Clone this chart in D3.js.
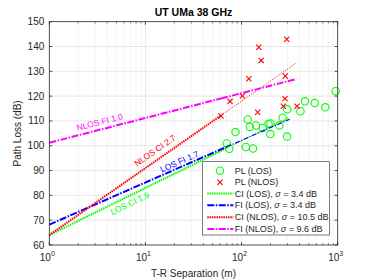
<!DOCTYPE html>
<html><head><meta charset="utf-8">
<script src="https://cdn.jsdelivr.net/npm/d3@7"></script>
<style>
html,body{margin:0;padding:0;background:#fff;}
svg{display:block;font-family:"Liberation Sans",Arial,Helvetica,sans-serif;}
</style></head>
<body>
<svg id="chart" width="374" height="280"></svg>
<script>
// ---- data ----
const chartTitle = "UT UMa 38 GHz";
const xLabel = "T-R Separation (m)";
const yLabel = "Path Loss (dB)";
const xDomain = [1, 1000];
const yDomain = [60, 150];
const yTicks = [60, 70, 80, 90, 100, 110, 120, 130, 140, 150];
const xTickExps = [0, 1, 2, 3];

const losDist = [70.0, 74.5, 86.5, 111, 116, 122, 131.5, 141, 166, 200, 190.5, 199, 247, 267, 297, 299, 410, 457, 577, 743, 953];
const losPL   = [100.9, 98.8, 105.5, 99.5, 110.6, 107.6, 98.9, 108.2, 107.2, 109.0, 108.8, 104.7, 108.2, 111.3, 103.7, 114.7, 113.9, 117.9, 117.2, 115.5, 122.0];

const nlosDist = [61, 75.9, 102, 119, 151, 160, 147, 295, 285, 283, 272, 377];
const nlosPL   = [112.0, 117.9, 120.1, 127.0, 139.7, 134.4, 113.5, 142.9, 128.1, 119.0, 115.9, 115.9];

// model lines: PL = alpha + 10*n*log10(d)
const modelNames  = ["CI (LOS)", "FI (LOS)", "CI (NLOS)", "FI (NLOS)"];
const modelSigma  = ["3.4", "3.4", "10.5", "9.6"];
const modelAlpha  = [64.0, 68.2, 64.0, 101.2];
const modelN      = [1.9, 1.7, 2.7, 1.0];
const modelDmin   = [70, 70, 61, 61];
const modelDmax   = [316, 316, 370, 370];
const modelLabels = ["LOS CI 1.9", "LOS FI 1.7", "NLOS CI 2.7", "NLOS FI 1.0"];
const labelDist   = [6.4, 23.8, 14.2, 3.5];

// ---- styles ----
const modelColors = ["#00ff00", "#0000ff", "#ff0000", "#ff00ff"];
const modelDash   = ["1.5,0.8", "7,1.5,1.5,1.5", "1.5,0.8", "7,1.5,1.5,1.5"];
const thinDash    = ["1.2,1.2", "5,1.5,1.2,1.5", "1.2,1.4", "7,1.5,1.5,1.5"];
const thinWidth   = [1.1, 1.1, 0.9, 2];
const labelOffset = [7, -5.5, -9, -7.5];
const axisColor = "#262626";

const svg = d3.select("#chart");
const m = {l: 49.3, r: 374 - 337.7, t: 21.7, b: 280 - 245};
const W = 374, H = 280;
const x = d3.scaleLog().domain(xDomain).range([m.l, W - m.r]);
const y = d3.scaleLinear().domain(yDomain).range([H - m.b, m.t]);

const g = svg.append("g");

// grid
const minorX = [];
for (let e = 0; e < 3; e++) for (let k = 2; k <= 9; k++) minorX.push(k * Math.pow(10, e));
g.selectAll(".mgx").data(minorX).join("line")
  .attr("x1", d => x(d)).attr("x2", d => x(d))
  .attr("y1", y(yDomain[0])).attr("y2", y(yDomain[1]))
  .attr("stroke", "#d0d0d0").attr("stroke-width", 0.6).attr("stroke-dasharray", "1,1.5");
g.selectAll(".gx").data([10, 100]).join("line")
  .attr("x1", d => x(d)).attr("x2", d => x(d))
  .attr("y1", y(yDomain[0])).attr("y2", y(yDomain[1]))
  .attr("stroke", "#e3e3e3").attr("stroke-width", 0.8);
g.selectAll(".gy").data(yTicks.slice(1, -1)).join("line")
  .attr("x1", x(xDomain[0])).attr("x2", x(xDomain[1]))
  .attr("y1", d => y(d)).attr("y2", d => y(d))
  .attr("stroke", "#e3e3e3").attr("stroke-width", 0.8);

// LOS points
g.selectAll(".los").data(losDist.map((d, i) => [d, losPL[i]])).join("circle")
  .attr("cx", d => x(d[0])).attr("cy", d => y(d[1])).attr("r", 3.7)
  .attr("fill", "none").attr("stroke", "#00ff00").attr("stroke-width", 1.1);
// NLOS points
const xs = 2.6;
g.selectAll(".nlos").data(nlosDist.map((d, i) => [d, nlosPL[i]])).join("path")
  .attr("d", d => {
    const cx = x(d[0]), cy = y(d[1]);
    return `M${cx - xs},${cy - xs}L${cx + xs},${cy + xs}M${cx - xs},${cy + xs}L${cx + xs},${cy - xs}`;
  })
  .attr("stroke", "#ff0000").attr("stroke-width", 1.1).attr("fill", "none");

// model lines
const pl = (i, d) => modelAlpha[i] + 10 * modelN[i] * Math.log10(d);
const line = d3.line().x(d => x(d[0])).y(d => y(d[1]));
modelNames.forEach((nm, i) => {
  g.append("path")
    .attr("d", line([[1, pl(i, 1)], [modelDmin[i], pl(i, modelDmin[i])]]))
    .attr("stroke", modelColors[i]).attr("stroke-width", 2)
    .attr("stroke-dasharray", modelDash[i]).attr("fill", "none");
  g.append("path")
    .attr("d", line([[modelDmin[i], pl(i, modelDmin[i])], [modelDmax[i], pl(i, modelDmax[i])]]))
    .attr("stroke", modelColors[i]).attr("stroke-width", thinWidth[i])
    .attr("stroke-dasharray", thinDash[i]).attr("fill", "none");
});

// line labels
modelLabels.forEach((t, i) => {
  const d0 = labelDist[i];
  const px = x(d0), py = y(pl(i, d0));
  const ang = Math.atan2(y(pl(i, d0 * 10)) - py, x(d0 * 10) - px) * 180 / Math.PI;
  const rad = ang * Math.PI / 180;
  const ox = -Math.sin(rad) * labelOffset[i], oy = Math.cos(rad) * labelOffset[i];
  g.append("text")
    .attr("transform", `translate(${px + ox},${py + oy}) rotate(${ang})`)
    .attr("text-anchor", "middle").attr("dominant-baseline", "central")
    .attr("font-size", 8.5).attr("fill", modelColors[i]).text(t);
});

// axes box
g.append("rect").attr("x", m.l).attr("y", m.t)
  .attr("width", W - m.r - m.l).attr("height", H - m.b - m.t)
  .attr("fill", "none").attr("stroke", axisColor).attr("stroke-width", 0.8);

// y ticks
g.selectAll(".yt").data(yTicks).join("path")
  .attr("d", d => `M${m.l},${y(d)}h3M${W - m.r},${y(d)}h-3`)
  .attr("stroke", axisColor).attr("stroke-width", 0.8);
g.selectAll(".yl").data(yTicks).join("text")
  .attr("x", m.l - 5).attr("y", d => y(d)).attr("dy", "0.35em")
  .attr("text-anchor", "end").attr("font-size", 10).attr("fill", axisColor)
  .text(d => d);

// x ticks
const majX = xTickExps.map(e => Math.pow(10, e));
g.selectAll(".xt").data(majX).join("path")
  .attr("d", d => `M${x(d)},${H - m.b}v-3M${x(d)},${m.t}v3`)
  .attr("stroke", axisColor).attr("stroke-width", 0.8);
g.selectAll(".xtm").data(minorX).join("path")
  .attr("d", d => `M${x(d)},${H - m.b}v-1.8M${x(d)},${m.t}v1.8`)
  .attr("stroke", axisColor).attr("stroke-width", 0.6);
const xl = g.selectAll(".xl").data(xTickExps).join("text")
  .attr("x", d => x(Math.pow(10, d)) - 2).attr("y", 260.5)
  .attr("text-anchor", "middle").attr("font-size", 10).attr("fill", axisColor);
xl.append("tspan").text("10");
xl.append("tspan").attr("dy", -4.5).attr("font-size", 7).text(d => d);

// titles
svg.append("text").attr("x", 193.5).attr("y", 16).attr("text-anchor", "middle")
  .attr("font-size", 10.5).attr("font-weight", "bold").attr("fill", "#000").text(chartTitle);
svg.append("text").attr("x", 193.5).attr("y", 276.5).attr("text-anchor", "middle")
  .attr("font-size", 10).attr("fill", axisColor).text(xLabel);
svg.append("text").attr("transform", "translate(20.5,133.4) rotate(-90)")
  .attr("text-anchor", "middle").attr("font-size", 10).attr("fill", axisColor).text(yLabel);

// legend
const lg = svg.append("g");
lg.append("rect").attr("x", 202.3).attr("y", 161.7).attr("width", 127).attr("height", 73.3)
  .attr("fill", "#fff").attr("stroke", axisColor).attr("stroke-width", 0.6);
const rowY = [170.7, 182.3, 193.6, 205.2, 217.2, 229.0];
const tx = 234.7, sx0 = 207.3, sx1 = 233.3, mx = 220;
lg.append("circle").attr("cx", mx).attr("cy", rowY[0]).attr("r", 3.7)
  .attr("fill", "none").attr("stroke", "#00ff00").attr("stroke-width", 1.1);
lg.append("path").attr("d", `M${mx - xs},${rowY[1] - xs}L${mx + xs},${rowY[1] + xs}M${mx - xs},${rowY[1] + xs}L${mx + xs},${rowY[1] - xs}`)
  .attr("stroke", "#ff0000").attr("stroke-width", 1.1);
lg.append("text").attr("x", tx).attr("y", rowY[0]).attr("dy", "0.35em").attr("font-size", 9).attr("fill", axisColor).text("PL (LOS)");
lg.append("text").attr("x", tx).attr("y", rowY[1]).attr("dy", "0.35em").attr("font-size", 9).attr("fill", axisColor).text("PL (NLOS)");
modelNames.forEach((nm, i) => {
  const ry = rowY[i + 2];
  lg.append("line").attr("x1", sx0).attr("x2", sx1).attr("y1", ry).attr("y2", ry)
    .attr("stroke", modelColors[i]).attr("stroke-width", 2).attr("stroke-dasharray", modelDash[i]);
  const t = lg.append("text").attr("x", tx).attr("y", ry).attr("dy", "0.35em")
    .attr("font-size", 9).attr("fill", axisColor);
  t.append("tspan").text(nm + ", ");
  t.append("tspan").attr("font-style", "italic").text("σ");
  t.append("tspan").text(" = " + modelSigma[i] + " dB");
});
</script>
</body></html>
